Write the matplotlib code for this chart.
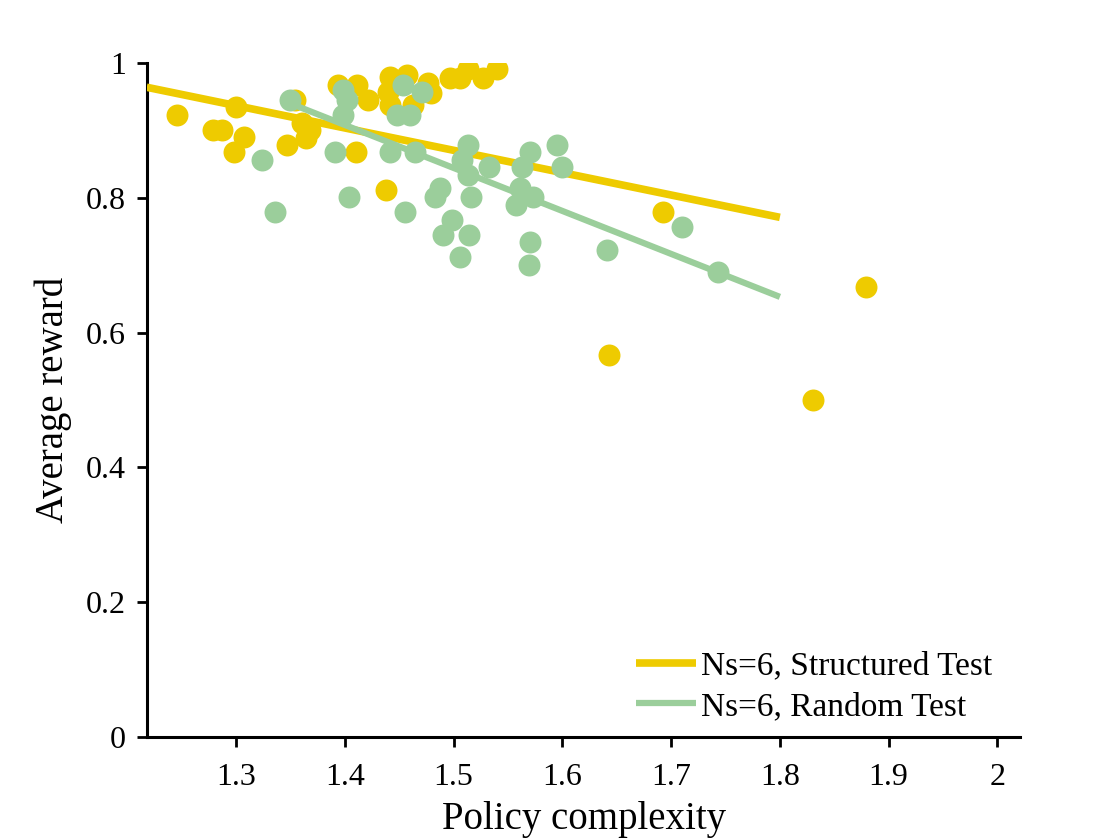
### Imports
import numpy as np
import matplotlib
matplotlib.use('Agg')
from matplotlib import pyplot as plt
from matplotlib.ticker import FuncFormatter

# ----------------------------------------------------------------------------
# Data

# Ns=6, Structured Test
struct_x = [1.246, 1.279, 1.287, 1.300, 1.307, 1.298, 1.347, 1.354, 1.361,
            1.368, 1.364, 1.410, 1.438, 1.394, 1.411, 1.421, 1.442, 1.457,
            1.440, 1.442, 1.463, 1.477, 1.479, 1.497, 1.506, 1.513, 1.527,
            1.540, 1.693, 1.643, 1.830, 1.879]
struct_y = [0.923, 0.901, 0.901, 0.935, 0.890, 0.868, 0.878, 0.945, 0.911,
            0.901, 0.889, 0.868, 0.812, 0.967, 0.967, 0.945, 0.979, 0.982,
            0.957, 0.938, 0.938, 0.970, 0.955, 0.978, 0.978, 0.991, 0.978,
            0.991, 0.779, 0.567, 0.500, 0.668]

# Ns=6, Random Test
random_x = [1.350, 1.324, 1.336, 1.398, 1.402, 1.398, 1.391, 1.404, 1.442,
            1.465, 1.455, 1.454, 1.471, 1.448, 1.460, 1.513, 1.508, 1.513,
            1.533, 1.488, 1.483, 1.516, 1.499, 1.490, 1.514, 1.506, 1.570,
            1.563, 1.561, 1.573, 1.557, 1.570, 1.569, 1.595, 1.600, 1.641,
            1.710, 1.743]
random_y = [0.945, 0.856, 0.779, 0.960, 0.945, 0.923, 0.868, 0.801, 0.868,
            0.868, 0.779, 0.967, 0.957, 0.923, 0.923, 0.878, 0.856, 0.834,
            0.846, 0.815, 0.801, 0.801, 0.767, 0.745, 0.745, 0.712, 0.868,
            0.846, 0.815, 0.801, 0.789, 0.734, 0.700, 0.878, 0.846, 0.723,
            0.757, 0.690]

# Fitted trend lines (end points)
struct_fit_x = [1.218, 1.800]
struct_fit_y = [0.964, 0.771]
random_fit_x = [1.350, 1.800]
random_fit_y = [0.940, 0.653]

labels = ['Ns=6, Structured Test', 'Ns=6, Random Test']
x_ticks = [1.3, 1.4, 1.5, 1.6, 1.7, 1.8, 1.9, 2.0]
y_ticks = [0, 0.2, 0.4, 0.6, 0.8, 1.0]

# ----------------------------------------------------------------------------

yellow = '#EECB00'
green = '#9BCE9B'

plt.rcParams['font.family'] = ['Liberation Serif', 'DejaVu Serif']

fig = plt.figure(figsize=(11.2, 8.4), dpi=100)
ax = fig.add_axes([0.131, 0.1226, 0.780, 0.8024])

ax.scatter(struct_x, struct_y, s=250, color=yellow, linewidths=0, zorder=2)
ax.plot(struct_fit_x, struct_fit_y, color=yellow, lw=5.5, zorder=3,
        solid_capstyle='butt', label=labels[0])
ax.scatter(random_x, random_y, s=250, color=green, linewidths=0, zorder=4)
ax.plot(random_fit_x, random_fit_y, color=green, lw=4.5, zorder=5,
        solid_capstyle='butt', label=labels[1])

ax.set_xlim(1.218, 2.021)
ax.set_ylim(0, 1.0)
ax.set_xticks(x_ticks)
ax.set_yticks(y_ticks)
fmt = FuncFormatter(lambda v, p: '%g' % round(v, 2))
ax.xaxis.set_major_formatter(fmt)
ax.yaxis.set_major_formatter(fmt)

for side in ['top', 'right']:
    ax.spines[side].set_visible(False)
for side in ['left', 'bottom']:
    ax.spines[side].set_linewidth(2.2)
ax.spines['left'].set_bounds(0, 1.0)
ax.tick_params(axis='both', direction='out', length=7, width=2.0,
               labelsize=23, pad=8)
ax.tick_params(axis='x', pad=12)

ax.set_xlabel('Policy complexity', fontsize=28, labelpad=6)
ax.set_ylabel('Average reward', fontsize=28, labelpad=10)

ax.legend(loc='lower right', bbox_to_anchor=(0.985, 0.0), frameon=False,
          fontsize=24, handlelength=1.8, handletextpad=0.15,
          labelspacing=0.3, borderaxespad=0.05)

fig.savefig('out.png', dpi=100)
